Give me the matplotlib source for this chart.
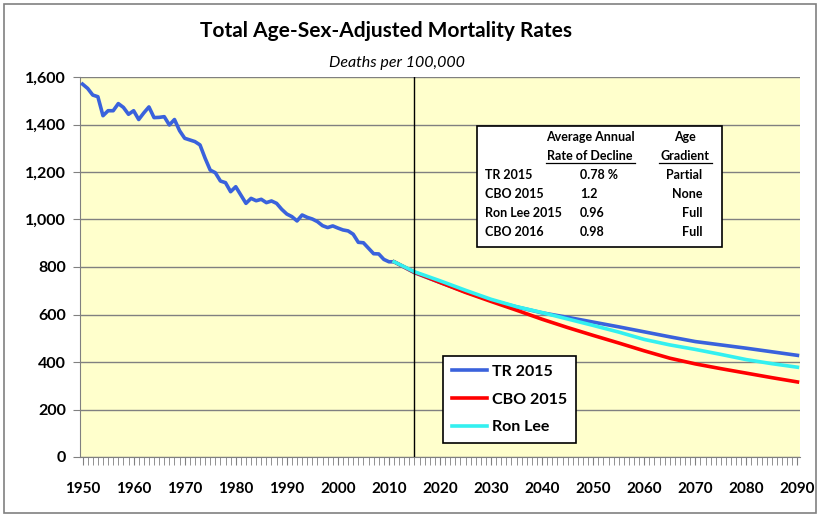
import numpy as np
import matplotlib
matplotlib.use('Agg')
import matplotlib.pyplot as plt
from matplotlib.patches import Rectangle
from matplotlib.lines import Line2D

plt.rcParams['font.family'] = ['Lato', 'DejaVu Sans']

# historical series, 1950-2011
hist_years = list(range(1950, 2012))
hist_rate = [1570, 1552, 1524, 1517, 1437, 1458, 1458, 1488, 1472, 1443,
             1458, 1421, 1449, 1474, 1429, 1430, 1433, 1398, 1421, 1374,
             1342, 1335, 1328, 1314, 1258, 1208, 1197, 1162, 1155, 1117,
             1138, 1103, 1068, 1089, 1079, 1085, 1071, 1078, 1068, 1043,
             1023, 1012, 994, 1019, 1009, 1002, 991, 974, 966, 973,
             964, 956, 952, 938, 904, 902, 879, 856, 855, 832,
             822, 822]

# projections, 2011 then every 5 years
proj_years = [2011, 2015, 2020, 2025, 2030, 2035, 2040, 2045, 2050,
              2055, 2060, 2065, 2070, 2075, 2080, 2085, 2090]
tr2015 = [822, 776, 735, 695, 660, 632, 607, 588, 568,
          548, 527, 506, 486, 472, 458, 443, 428]
cbo2015 = [822, 778, 735, 693, 655, 618, 580, 545, 512,
           480, 447, 416, 392, 372, 353, 334, 316]
ronlee = [822, 780, 742, 702, 664, 633, 608, 581, 554,
          526, 495, 472, 453, 432, 410, 393, 378]

table_names = ['TR 2015', 'CBO 2015', 'Ron Lee 2015', 'CBO 2016']
table_rates = ['0.78 %', '1.2', '0.96', '0.98']
table_gradient = ['Partial', 'None', 'Full', 'Full']

W, H = 822, 518
fig = plt.figure(figsize=(W / 100, H / 100), dpi=100)

def fx(x):
    return x / W

def fy(y):
    return 1 - y / H

# outer chart border
fig.patches.append(Rectangle((fx(4), fy(513)), fx(812), 509 / H, transform=fig.transFigure,
                             fill=False, edgecolor='#808080', linewidth=1.2))

ax = fig.add_axes([fx(80), fy(457), fx(720), 380 / H])
ax.set_facecolor('#FFFFCC')

ax.plot(hist_years[:-1] + proj_years, hist_rate[:-1] + tr2015, color='#3A62DC', lw=2.6,
        label='TR 2015', zorder=3)
ax.plot(proj_years, cbo2015, color='#FF0000', lw=2.6, label='CBO 2015', zorder=4)
ax.plot(proj_years, ronlee, color='#33F0F0', lw=2.6, label='Ron Lee', zorder=5)

ax.axvline(2015, color='black', lw=1.0, zorder=6)

ax.set_xlim(1949.5, 2090.5)
ax.set_ylim(0, 1600)
ax.set_yticks(np.arange(0, 1601, 200))
ax.set_yticklabels(['{:,}'.format(v) for v in range(0, 1601, 200)])
ax.set_xticks(range(1950, 2091, 10))
ax.set_xticks(range(1950, 2091), minor=True)
ax.yaxis.grid(True, color='#808080', lw=1.0)
ax.set_axisbelow(True)

for s in ['top', 'right']:
    ax.spines[s].set_visible(False)
for s in ['left', 'bottom']:
    ax.spines[s].set_color('#808080')

ax.tick_params(axis='y', length=5, color='#808080', pad=5, labelsize=11.5)
ax.tick_params(axis='x', which='both', length=6, color='#808080', pad=12, labelsize=11)
for lab in ax.get_xticklabels() + ax.get_yticklabels():
    lab.set_fontweight('bold')

fig.text(fx(386), fy(31), 'Total Age-Sex-Adjusted Mortality Rates', ha='center', va='center',
         fontsize=15, fontweight='bold')
fig.text(fx(397), fy(63), 'Deaths per 100,000', ha='center', va='center',
         fontsize=11.5, fontstyle='italic')

# table box
fig.patches.append(Rectangle((fx(477), fy(247)), fx(245), 121 / H, transform=fig.transFigure,
                             facecolor='white', edgecolor='black', linewidth=1.2, zorder=10))
tk = dict(fontsize=9, fontweight='bold', va='center', zorder=11)
fig.text(fx(590), fy(137), 'Average Annual', ha='center', **tk)
fig.text(fx(590), fy(156), 'Rate of Decline', ha='center', **tk)
fig.text(fx(685), fy(137), 'Age', ha='center', **tk)
fig.text(fx(685), fy(156), 'Gradient', ha='center', **tk)
fig.lines.append(Line2D([fx(546), fx(635)], [fy(163), fy(163)], transform=fig.transFigure,
                        color='black', lw=0.9, zorder=11))
fig.lines.append(Line2D([fx(659), fx(712)], [fy(163), fy(163)], transform=fig.transFigure,
                        color='black', lw=0.9, zorder=11))
row_y = [175, 194, 213, 232]
for i in range(len(table_names)):
    fig.text(fx(485), fy(row_y[i]), table_names[i], ha='left', **tk)
    fig.text(fx(580), fy(row_y[i]), table_rates[i], ha='left', **tk)
    fig.text(fx(702), fy(row_y[i]), table_gradient[i], ha='right', **tk)

leg = ax.legend(loc='upper left', bbox_to_anchor=(fx(443), fy(356)), bbox_transform=fig.transFigure,
                frameon=True, fancybox=False, edgecolor='black', framealpha=1,
                prop={'weight': 'bold', 'size': 11.5}, handlelength=2.2, handletextpad=0.3,
                labelspacing=0.85, borderpad=0.55, borderaxespad=0)
leg.get_frame().set_linewidth(1.2)
leg.set_zorder(12)

fig.savefig('out.png', dpi=100)
